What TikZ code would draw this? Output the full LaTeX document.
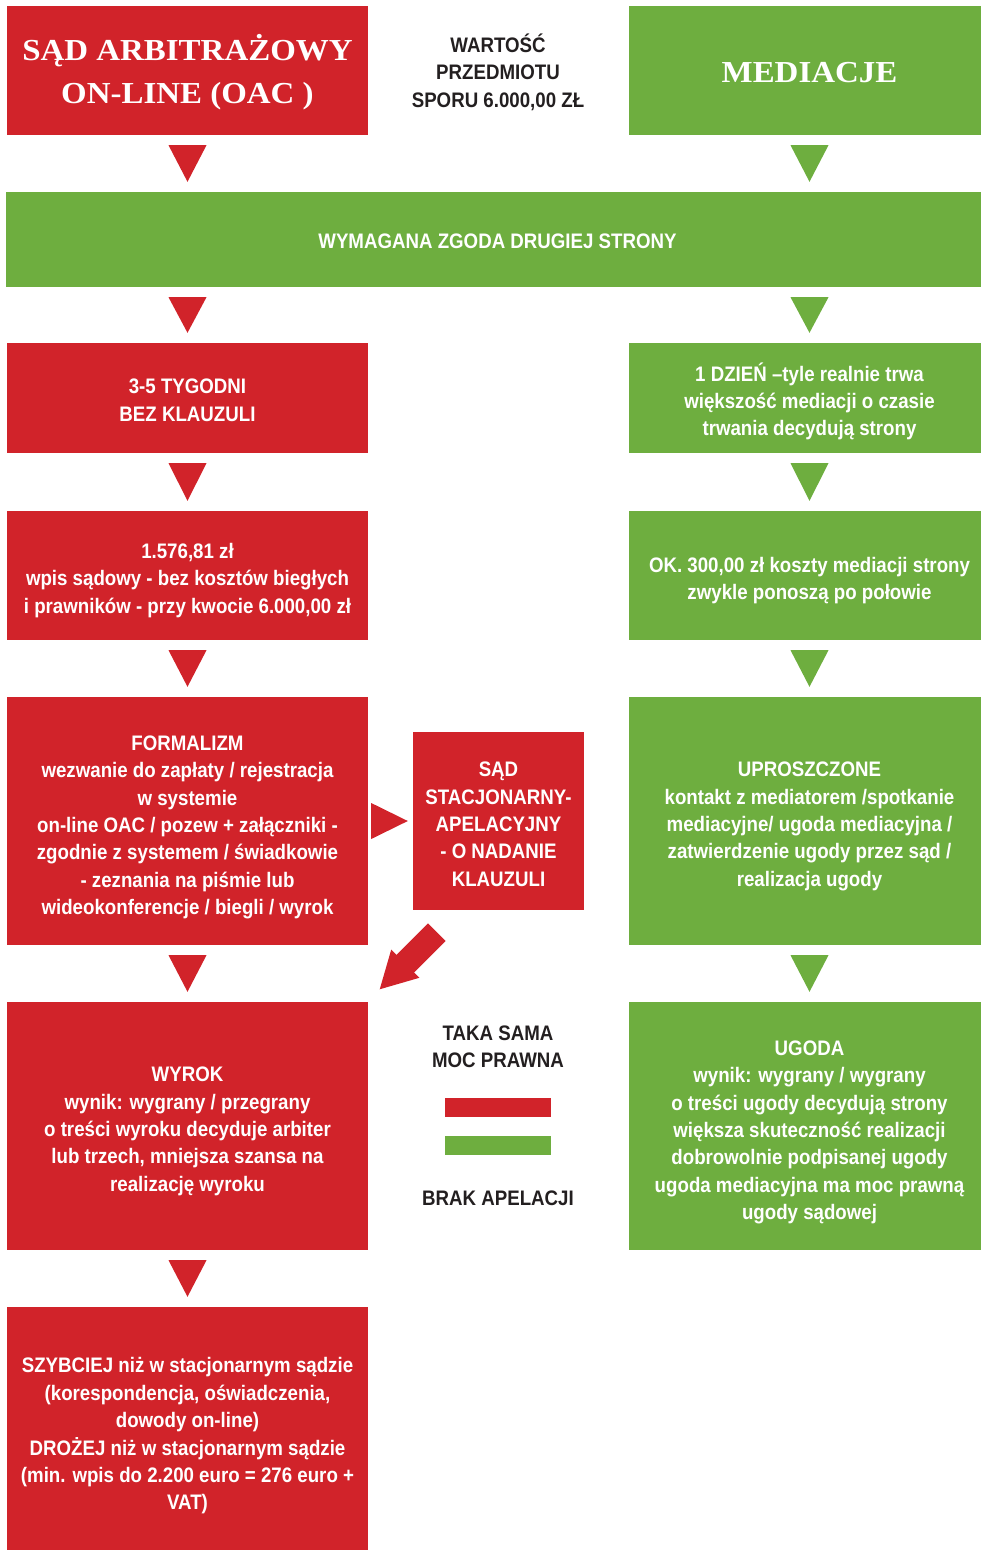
\documentclass[tikz,border=0pt]{standalone}
\usepackage{fontspec}
\usetikzlibrary{calc,arrows.meta}
\newfontfamily\bodyfont[FakeStretch=0.89]{Liberation Sans}
\newfontfamily\titlefont[FakeStretch=1.08]{Liberation Serif}
\definecolor{ored}{RGB}{209,35,42}
\definecolor{ogreen}{RGB}{110,174,63}
\definecolor{oblack}{RGB}{35,31,32}
\newcommand\vtri[4]{%
  \fill[#4] ($(#3.center |- #1.south)+(-19,10)$) -- ($(#3.center |- #1.south)+(19,10)$) -- ($(#3.center |- #2.north)+(0,-10)$) -- cycle;}
% text block lowered a little inside its box (extents kept)
\newcommand\lowtxt[2][-5pt]{\raisebox{#1}[\height][\depth]{\begin{tabular}{@{}c@{}}#2\end{tabular}}}
\tikzset{
  box/.style={inner sep=0pt, minimum width=361, text=white, align=center,
    font=\bodyfont\bfseries\fontsize{21}{27.4}\selectfont},
  rbox/.style={box, fill=ored},
  gbox/.style={box, fill=ogreen},
  ttl/.style={inner sep=0pt, minimum width=361, minimum height=129, text=white, align=center,
    font=\titlefont\bfseries\fontsize{30.5}{43}\selectfont},
  blk/.style={inner sep=0pt, text=oblack, align=center,
    font=\bodyfont\bfseries\fontsize{21}{27.4}\selectfont},
  legbar/.style={inner sep=0pt, minimum width=106, minimum height=19}
}
\begin{document}
\begin{tikzpicture}[x=1pt,y=-1pt]
\useasboundingbox (0,0) rectangle (981,1550);
% titles
\node[ttl, fill=ored] (t1) at (187.5,70.5) {\lowtxt[-3pt]{SĄD ARBITRAŻOWY\\ON-LINE (OAC )}};
\node[ttl, fill=ogreen] (t2) at (809.5,70.5) {\lowtxt[-3pt]{MEDIACJE}};
\node[blk] (val) at (498,72) {WARTOŚĆ\\PRZEDMIOTU\\SPORU 6.000,00 ZŁ};
% bar
\node[gbox, minimum width=983, minimum height=95] (bar) at (497.5,239.5) {\lowtxt[-4pt]{WYMAGANA ZGODA DRUGIEJ STRONY}};
% row 3
\node[rbox, minimum height=110] (r3) at (187.5,398) {\lowtxt[-4pt]{3-5 TYGODNI\\BEZ KLAUZULI}};
\node[gbox, minimum height=110] (g3) at (809.5,398) {\lowtxt{1 DZIEŃ –tyle realnie trwa\\większość mediacji o czasie\\trwania decydują strony}};
% row 4
\node[rbox, minimum height=129] (r4) at (187.5,575.5) {\lowtxt{1.576,81 zł\\wpis sądowy - bez kosztów biegłych\\i prawników - przy kwocie 6.000,00 zł}};
\node[gbox, minimum height=129] (g4) at (809.5,575.5) {\lowtxt{OK. 300,00 zł koszty mediacji strony\\zwykle ponoszą po połowie}};
% row 5
\node[rbox, minimum height=248] (r5) at (187.5,821) {\lowtxt[-6pt]{FORMALIZM\\wezwanie do zapłaty / rejestracja\\w systemie\\on-line OAC / pozew + załączniki -\\zgodnie z systemem / świadkowie\\- zeznania na piśmie lub\\wideokonferencje / biegli / wyrok}};
\node[gbox, minimum height=248] (g5) at (809.5,821) {\lowtxt{UPROSZCZONE\\kontakt z mediatorem /spotkanie\\mediacyjne/ ugoda mediacyjna /\\zatwierdzenie ugody przez sąd /\\realizacja ugody}};
\node[rbox, minimum width=171, minimum height=178] (mid) at (498.5,821) {\lowtxt{SĄD\\STACJONARNY-\\APELACYJNY\\- O NADANIE\\KLAUZULI}};
% row 6
\node[rbox, minimum height=248] (r6) at (187.5,1126) {\lowtxt{WYROK\\wynik: wygrany / przegrany\\o treści wyroku decyduje arbiter\\lub trzech, mniejsza szansa na\\realizację wyroku}};
\node[gbox, minimum height=248] (g6) at (809.5,1126) {\lowtxt[-6pt]{UGODA\\wynik: wygrany / wygrany\\o treści ugody decydują strony\\większa skuteczność realizacji\\dobrowolnie podpisanej ugody\\ugoda mediacyjna ma moc prawną\\ugody sądowej}};
% legend
\node[blk] (taka) at (498,1047) {TAKA SAMA\\MOC PRAWNA};
\node[legbar, fill=ored] (lr) at (498,1107.5) {};
\node[legbar, fill=ogreen] (lg) at (498,1145.5) {};
\node[blk] (brak) at (498,1198) {BRAK APELACJI};
% row 7
\node[rbox, minimum height=254] (r7) at (187.5,1434) {\lowtxt[-2pt]{SZYBCIEJ niż w stacjonarnym sądzie\\(korespondencja, oświadczenia,\\dowody on-line)\\DROŻEJ niż w stacjonarnym sądzie\\(min. wpis do 2.200 euro = 276 euro +\\VAT)}};
% triangles
\vtri{t1}{bar}{t1}{ored}
\vtri{t2}{bar}{t2}{ogreen}
\vtri{bar}{r3}{r3}{ored}
\vtri{bar}{g3}{g3}{ogreen}
\vtri{r3}{r4}{r3}{ored}
\vtri{g3}{g4}{g3}{ogreen}
\vtri{r4}{r5}{r4}{ored}
\vtri{g4}{g5}{g4}{ogreen}
\vtri{r5}{r6}{r5}{ored}
\vtri{g5}{g6}{g5}{ogreen}
\vtri{r6}{r7}{r6}{ored}
\fill[ored] ($(r5.east |- mid.center)+(3,-18)$) -- ($(r5.east |- mid.center)+(3,18)$) -- ($(mid.west)+(-5,0)$) -- cycle;
\draw[ored, line width=25, -{Triangle[length=37pt,width=37pt]}] ($(mid.south west)+(24,22)$) -- ($(r6.north east)+(11,-12)$);
\end{tikzpicture}
\end{document}
